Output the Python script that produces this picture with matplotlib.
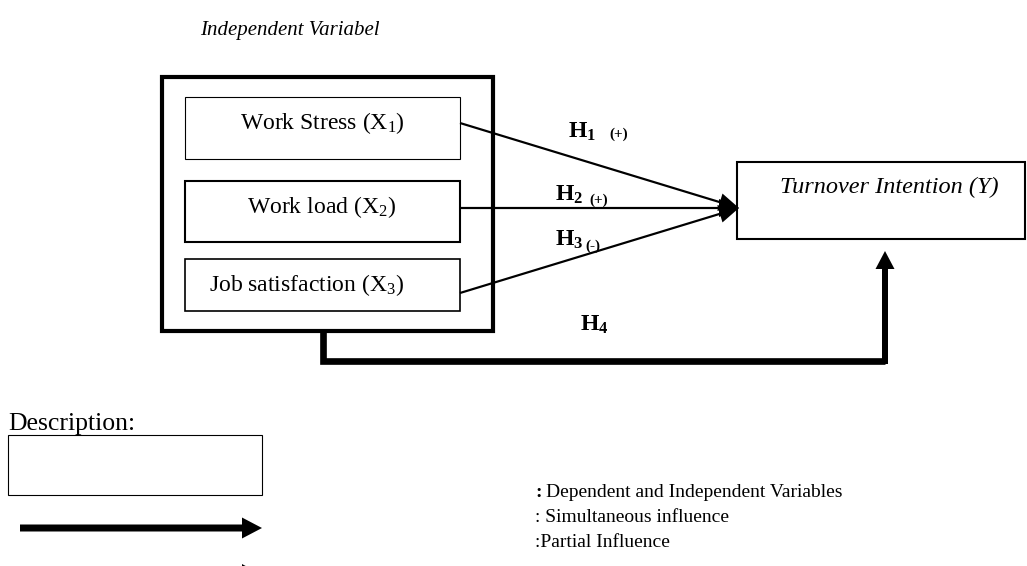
import matplotlib
matplotlib.use('Agg')
import matplotlib.pyplot as plt
from matplotlib.patches import Rectangle

plt.rcParams['font.family'] = ['Liberation Serif', 'DejaVu Serif']
plt.rcParams['mathtext.fontset'] = 'custom'
plt.rcParams['mathtext.rm'] = 'Liberation Serif'
plt.rcParams['mathtext.it'] = 'Liberation Serif:italic'
plt.rcParams['mathtext.bf'] = 'Liberation Serif:bold'

# 变量与假设
independent_labels = [r'Work Stress ($\mathrm{X}_1$)', r'Work load ($\mathrm{X}_2$)',
                      r'Job satisfaction ($\mathrm{X}_3$)']
dependent_label = 'Turnover Intention (Y)'
hypothesis_labels = [r'$\mathbf{H}_\mathbf{1}$', r'$\mathbf{H}_\mathbf{2}$',
                     r'$\mathbf{H}_\mathbf{3}$', r'$\mathbf{H}_\mathbf{4}$']
hypothesis_signs = ['(+)', '(+)', '(-)', '']
legend_texts = ['Dependent and Independent Variables', ': Simultaneous influence',
                ':Partial Influence']

W, H = 1027, 566
fig = plt.figure(figsize=(W / 100, H / 100), dpi=100)
ax = fig.add_axes([0, 0, 1, 1])
ax.set_xlim(0, W)
ax.set_ylim(H, 0)
ax.axis('off')


def arrow(x0, y0, x1, y1, width, hw, hl):
    ax.arrow(x0, y0, x1 - x0, y1 - y0, width=width, head_width=hw, head_length=hl,
             length_includes_head=True, fc='black', ec='none', lw=0)


ax.text(290, 30, 'Independent Variabel', fontsize=15, style='italic', ha='center', va='center')

# 外框
ax.add_patch(Rectangle((162, 77), 331, 254, fill=False, lw=3.0, ec='black',
                       joinstyle='miter'))

# 自变量框
box_y = [(97, 159), (181, 242), (259, 311)]
box_lw = [0.8, 1.5, 1.2]
text_xy = [(322, 129), (322, 213), (307, 291)]
for (y0, y1), lab, lw, (tx, ty) in zip(box_y, independent_labels, box_lw, text_xy):
    ax.add_patch(Rectangle((185, y0), 275, y1 - y0, fill=False, lw=lw, ec='black'))
    ax.text(tx, ty, lab, fontsize=17, ha='center', va='baseline')

# 因变量框
ax.add_patch(Rectangle((737, 162), 288, 77, fill=False, lw=1.5, ec='black'))
ax.text(889, 193, dependent_label, fontsize=17.5, style='italic', ha='center', va='baseline')

# 部分影响箭头
start_y = [123, 208, 293]
for sy in start_y:
    arrow(460, sy, 739, 208, 2.2, 18, 20)

# 假设标签
h_pos = [(568, 132), (555, 195), (555, 240), (580, 325)]
s_pos = [(609, 134), (589, 200), (585, 246), (0, 0)]
for lab, sign, (hx, hy), (sx, sy) in zip(hypothesis_labels, hypothesis_signs, h_pos, s_pos):
    ax.text(hx, hy, lab, fontsize=17, ha='left', va='center')
    if sign:
        ax.text(sx, sy, sign, fontsize=11, fontweight='bold', ha='left', va='center')

# 同时影响 (H4)
ax.plot([323, 323, 885], [331, 361, 361], color='black', lw=4.8, solid_joinstyle='miter',
        solid_capstyle='butt')
arrow(885, 364, 885, 251, 6, 19, 18)

# 图例说明
ax.text(8, 430, 'Description:', fontsize=18.5, va='baseline')
ax.add_patch(Rectangle((8, 435), 254, 60, fill=False, lw=0.8, ec='black'))
arrow(20, 528, 262, 528, 7, 21, 20)
arrow(20, 575, 262, 575, 2.2, 22, 20)
for i, t in enumerate(legend_texts):
    yb = 497 + 25 * i
    if i == 0:
        ax.text(535, yb, ':', fontsize=14, fontweight='bold', va='baseline')
        ax.text(546, yb, t, fontsize=14, va='baseline')
    else:
        ax.text(535, yb, t, fontsize=14, va='baseline')

plt.savefig('out.png', dpi=100)
plt.close()
